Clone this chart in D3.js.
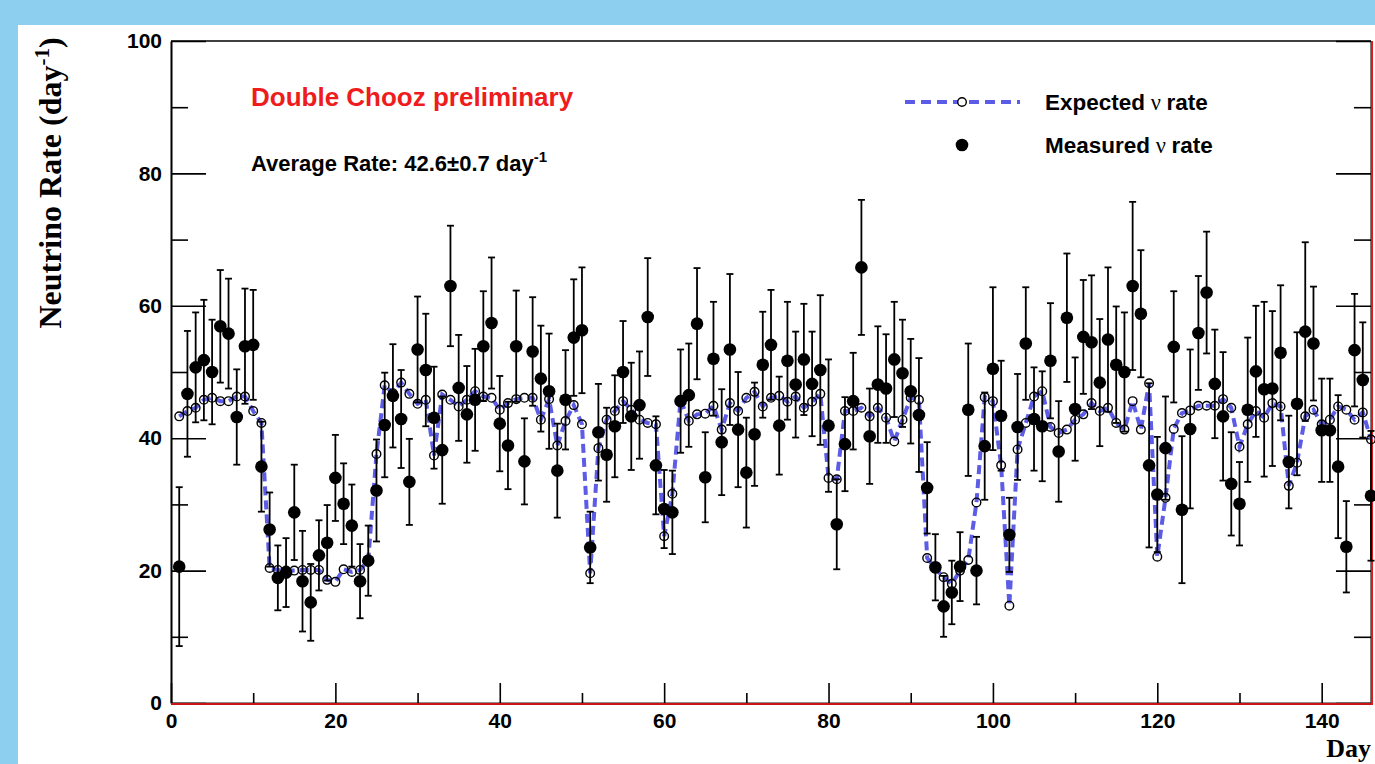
<!DOCTYPE html>
<html>
<head>
<meta charset="utf-8">
<script src="https://cdn.jsdelivr.net/npm/d3@7"></script>
<style>
  html, body { margin: 0; padding: 0; background: #8dcfee; }
  svg { display: block; }
</style>
</head>
<body>
<svg id="chart" width="1375" height="764"></svg>
<script>
// Day number of each daily sample
const days = [
  1,2,3,4,5,6,7,8,9,10,11,12,13,14,15,16,17,18,19,20,
  21,22,23,24,25,26,27,28,29,30,31,32,33,34,35,36,37,38,39,40,
  41,42,43,44,45,46,47,48,49,50,51,52,53,54,55,56,57,58,59,60,
  61,62,63,64,65,66,67,68,69,70,71,72,73,74,75,76,77,78,79,80,
  81,82,83,84,85,86,87,88,89,90,91,92,93,94,95,96,97,98,99,100,
  101,102,103,104,105,106,107,108,109,110,111,112,113,114,115,116,117,118,119,120,
  121,122,123,124,125,126,127,128,129,130,131,132,133,134,135,136,137,138,139,140,
  141,142,143,144,145,146
];

// Expected neutrino rate per day (reactor prediction)
const expectedRate = [
  43.3,44.1,44.6,45.8,46.1,45.6,45.6,46.3,46.3,44.1,
  42.3,20.4,20.1,20.0,20.0,20.1,20.1,20.1,18.6,18.3,
  20.2,19.8,20.1,21.6,37.6,48.0,46.8,48.4,46.7,45.2,
  45.8,37.4,46.6,45.8,44.8,45.8,47.1,46.3,46.1,44.3,
  45.3,45.9,46.1,46.1,42.8,45.9,38.9,42.6,45.0,42.1,
  19.6,38.5,42.8,44.1,45.6,44.3,42.8,42.3,42.1,25.2,
  31.6,45.8,42.6,43.6,43.7,44.9,41.3,45.3,44.1,46.1,
  47.0,44.8,46.1,46.4,45.5,46.3,44.6,45.5,46.7,34.0,
  33.8,44.1,44.1,44.6,43.3,44.6,43.1,39.5,42.8,46.1,
  45.8,21.9,20.3,19.0,18.0,20.0,21.6,30.3,46.2,45.6,
  35.9,14.7,38.3,42.3,46.3,47.1,41.7,40.8,41.3,42.8,
  43.6,45.3,44.1,44.6,42.3,41.3,45.6,41.3,48.3,22.1,
  31.0,41.4,43.8,44.2,44.9,44.9,44.9,45.9,44.6,38.7,
  42.1,44.1,43.1,45.3,44.8,32.8,36.3,43.3,44.3,42.1,
  42.8,44.8,44.3,42.8,43.9,39.8
];

// Measured neutrino rate per day
const measuredRate = [
  20.6,46.7,50.7,51.8,50.0,56.9,55.8,43.2,53.9,54.1,
  35.7,26.2,18.9,19.7,28.8,18.4,15.2,22.3,24.2,34.0,
  30.1,26.8,18.4,21.5,32.1,42.0,46.4,42.9,33.4,53.4,
  50.3,43.1,38.2,63.0,47.6,43.6,45.8,53.9,57.4,42.2,
  38.9,53.9,36.5,53.1,49.0,47.1,35.1,45.8,55.2,56.3,
  23.5,40.9,37.5,41.8,50.0,43.3,45.0,58.3,35.9,29.3,
  28.8,45.6,46.5,57.3,34.1,52.0,39.4,53.4,41.3,34.8,
  40.6,51.1,54.1,41.9,51.7,48.1,51.9,48.2,50.3,41.9,
  27.0,39.1,45.6,65.8,40.3,48.1,47.5,51.9,49.8,47.1,
  43.5,32.5,20.5,14.6,16.7,20.6,44.3,20.0,38.8,50.5,
  43.4,25.4,41.7,54.3,42.9,41.8,51.7,38.0,58.2,44.4,
  55.3,54.5,48.4,54.9,51.1,50.0,63.0,58.8,35.9,31.5,
  38.5,53.8,29.2,41.4,55.9,62.0,48.2,43.3,33.1,30.1,
  44.3,50.1,47.4,47.5,52.9,36.4,45.2,56.1,54.3,41.2,
  41.2,35.7,23.6,53.3,48.8,31.3
];

// Statistical uncertainty on each measured rate (half-width of the bar)
const measuredErr = [
  12.0,9.5,8.3,9.1,7.9,8.5,8.3,7.2,8.7,8.3,
  6.8,5.6,4.9,5.2,7.2,7.6,5.8,5.3,5.7,6.5,
  6.1,6.2,5.6,5.3,7.7,7.9,7.8,7.4,6.5,8.0,
  8.5,7.7,8.1,9.1,8.0,7.3,7.7,8.3,9.9,7.2,
  6.6,8.4,6.5,8.2,8.0,8.7,7.1,7.5,8.8,9.5,
  5.4,7.3,7.1,7.7,7.7,8.1,8.1,8.9,7.4,5.9,
  6.3,7.8,7.8,8.4,6.8,8.6,8.0,11.4,8.7,8.3,
  7.8,8.0,8.3,7.4,8.9,8.0,8.4,7.9,11.3,10.0,
  6.8,7.1,7.3,10.2,7.2,8.8,8.2,8.7,8.1,7.9,
  8.6,6.9,5.0,4.6,4.8,5.2,10.0,5.1,8.1,12.3,
  8.3,5.6,8.0,8.5,7.8,8.3,8.7,7.6,9.7,7.8,
  8.6,10.1,9.6,10.9,8.8,9.0,12.7,9.6,12.4,8.7,
  7.8,8.4,11.1,12.0,8.6,9.2,8.2,9.7,7.8,6.3,
  10.9,9.9,13.2,11.7,10.2,7.0,10.8,13.5,8.6,7.8,
  7.8,10.8,6.9,8.5,8.7,9.8
];

// Axis ticks
const xMajorTicks = [0, 20, 40, 60, 80, 100, 120, 140];
const xMinorTicks = [10, 30, 50, 70, 90, 110, 130];
const yMajorTicks = [0, 20, 40, 60, 80, 100];
const yMinorTicks = [10, 30, 50, 70, 90];

const W = 1375, H = 764;
const plot = { left: 171, right: 1371, top: 41, bottom: 703 };
const blueDash = "#5c5ce6";
const tickFont = "'Liberation Sans', Arial, Helvetica, sans-serif";
const serifFont = "'Liberation Serif', 'Times New Roman', Times, serif";

const svg = d3.select("#chart");

// Slide background and white page
svg.append("rect").attr("width", W).attr("height", H).attr("fill", "#8dcfee");
svg.append("rect").attr("x", 18).attr("y", 25).attr("width", W - 18).attr("height", H - 25).attr("fill", "#ffffff");

const x = d3.scaleLinear().domain([0, 146]).range([plot.left, plot.right]);
const y = d3.scaleLinear().domain([0, 100]).range([plot.bottom, plot.top]);

function styleAxis(g) {
  g.selectAll("line").attr("stroke", "#000").attr("stroke-width", 1.6);
  g.selectAll("path.domain").attr("stroke", "#000").attr("stroke-width", 1.6);
  g.selectAll("text")
    .attr("fill", "#000")
    .style("font-family", tickFont)
    .style("font-weight", "bold")
    .style("font-size", "21px");
}

// Left axis: labels plus inward ticks
const gLeft = svg.append("g").attr("transform", `translate(${plot.left},0)`)
  .call(d3.axisLeft(y).tickValues(yMajorTicks).tickSize(-35).tickSizeOuter(0).tickPadding(9).tickFormat(d3.format("d")));
styleAxis(gLeft);
const gLeftMinor = svg.append("g").attr("transform", `translate(${plot.left},0)`)
  .call(d3.axisLeft(y).tickValues(yMinorTicks).tickSize(-17).tickSizeOuter(0).tickFormat(""));
styleAxis(gLeftMinor);

// Right axis: ticks only
const gRight = svg.append("g").attr("transform", `translate(${plot.right},0)`)
  .call(d3.axisRight(y).tickValues(yMajorTicks).tickSize(-35).tickSizeOuter(0).tickFormat(""));
styleAxis(gRight);
const gRightMinor = svg.append("g").attr("transform", `translate(${plot.right},0)`)
  .call(d3.axisRight(y).tickValues(yMinorTicks).tickSize(-17).tickSizeOuter(0).tickFormat(""));
styleAxis(gRightMinor);

// Bottom axis
const gBottom = svg.append("g").attr("transform", `translate(0,${plot.bottom})`)
  .call(d3.axisBottom(x).tickValues(xMajorTicks).tickSize(-20).tickSizeOuter(0).tickPadding(10).tickFormat(d3.format("d")));
styleAxis(gBottom);
const gBottomMinor = svg.append("g").attr("transform", `translate(0,${plot.bottom})`)
  .call(d3.axisBottom(x).tickValues(xMinorTicks).tickSize(-10).tickSizeOuter(0).tickFormat(""));
styleAxis(gBottomMinor);

// Top frame line
svg.append("line")
  .attr("x1", plot.left).attr("x2", plot.right)
  .attr("y1", plot.top).attr("y2", plot.top)
  .attr("stroke", "#000").attr("stroke-width", 1.6);

// Red outline on the bottom and right edges of the frame
svg.append("line")
  .attr("x1", plot.left).attr("x2", plot.right)
  .attr("y1", plot.bottom + 1).attr("y2", plot.bottom + 1)
  .attr("stroke", "#c81414").attr("stroke-width", 2);
svg.append("line")
  .attr("x1", plot.right + 1).attr("x2", plot.right + 1)
  .attr("y1", plot.top).attr("y2", plot.bottom + 2)
  .attr("stroke", "#e01a1a").attr("stroke-width", 2);

// Expected rate: dashed blue curve with hollow circle markers on top
const expectedPts = days.map((d, i) => ({ day: d, v: expectedRate[i] }));
const line = d3.line().x(d => x(d.day)).y(d => y(d.v));

svg.append("path")
  .datum(expectedPts)
  .attr("d", line)
  .attr("fill", "none")
  .attr("stroke", blueDash)
  .attr("stroke-width", 4)
  .attr("stroke-dasharray", "9,5");

svg.append("g").selectAll("circle")
  .data(expectedPts)
  .join("circle")
  .attr("cx", d => x(d.day))
  .attr("cy", d => y(d.v))
  .attr("r", 4.3)
  .attr("fill", "none")
  .attr("stroke", "#000")
  .attr("stroke-width", 1.4);

// Measured rate with error bars
const measuredPts = days.map((d, i) => ({ day: d, v: measuredRate[i], e: measuredErr[i] }));
const gErr = svg.append("g").attr("stroke", "#000").attr("stroke-width", 1.8);
gErr.selectAll("line.bar")
  .data(measuredPts)
  .join("line")
  .attr("class", "bar")
  .attr("x1", d => x(d.day)).attr("x2", d => x(d.day))
  .attr("y1", d => y(d.v + d.e)).attr("y2", d => y(d.v - d.e));
gErr.selectAll("line.capHi")
  .data(measuredPts)
  .join("line")
  .attr("class", "capHi")
  .attr("x1", d => x(d.day) - 3.5).attr("x2", d => x(d.day) + 3.5)
  .attr("y1", d => y(d.v + d.e)).attr("y2", d => y(d.v + d.e));
gErr.selectAll("line.capLo")
  .data(measuredPts)
  .join("line")
  .attr("class", "capLo")
  .attr("x1", d => x(d.day) - 3.5).attr("x2", d => x(d.day) + 3.5)
  .attr("y1", d => y(d.v - d.e)).attr("y2", d => y(d.v - d.e));

svg.append("g").selectAll("circle")
  .data(measuredPts)
  .join("circle")
  .attr("cx", d => x(d.day))
  .attr("cy", d => y(d.v))
  .attr("r", 6.3)
  .attr("fill", "#000");

// Annotations
svg.append("text")
  .attr("x", 251).attr("y", 106)
  .attr("fill", "#ee1c1c")
  .style("font-family", tickFont).style("font-weight", "bold").style("font-size", "26px")
  .text("Double Chooz preliminary");

const avg = svg.append("text")
  .attr("x", 251).attr("y", 171)
  .attr("fill", "#000")
  .style("font-family", tickFont).style("font-weight", "bold").style("font-size", "22px");
avg.append("tspan").text("Average Rate: 42.6\u00b10.7 day");
avg.append("tspan").attr("dy", -9).style("font-size", "15px").text("-1");

// Legend
svg.append("line")
  .attr("x1", 905).attr("x2", 1020).attr("y1", 102).attr("y2", 102)
  .attr("stroke", blueDash).attr("stroke-width", 4).attr("stroke-dasharray", "10,6");
svg.append("circle").attr("cx", 962).attr("cy", 102).attr("r", 4.3)
  .attr("fill", "#fff").attr("stroke", "#000").attr("stroke-width", 1.4);
svg.append("circle").attr("cx", 962).attr("cy", 145).attr("r", 6.3).attr("fill", "#000");

function legendLabel(yPos, word) {
  const t = svg.append("text")
    .attr("x", 1045).attr("y", yPos)
    .attr("fill", "#000")
    .style("font-family", tickFont).style("font-weight", "bold").style("font-size", "22.5px");
  t.append("tspan").text(word);
  t.append("tspan").style("font-family", serifFont).style("font-weight", "normal").text(" \u03bd ");
  t.append("tspan").text("rate");
}
legendLabel(110, "Expected");
legendLabel(153, "Measured");

// Axis titles
const yTitle = svg.append("text")
  .attr("transform", "translate(61,183) rotate(-90)")
  .attr("text-anchor", "middle")
  .attr("fill", "#000")
  .style("font-family", serifFont).style("font-weight", "bold").style("font-size", "32px");
yTitle.append("tspan").text("Neutrino Rate (day");
yTitle.append("tspan").attr("dy", -12).style("font-size", "21px").text("-1");
yTitle.append("tspan").attr("dy", 12).text(")");

svg.append("text")
  .attr("x", 1371).attr("y", 757)
  .attr("text-anchor", "end")
  .attr("fill", "#000")
  .style("font-family", serifFont).style("font-weight", "bold").style("font-size", "26px")
  .text("Day");
</script>
</body>
</html>
